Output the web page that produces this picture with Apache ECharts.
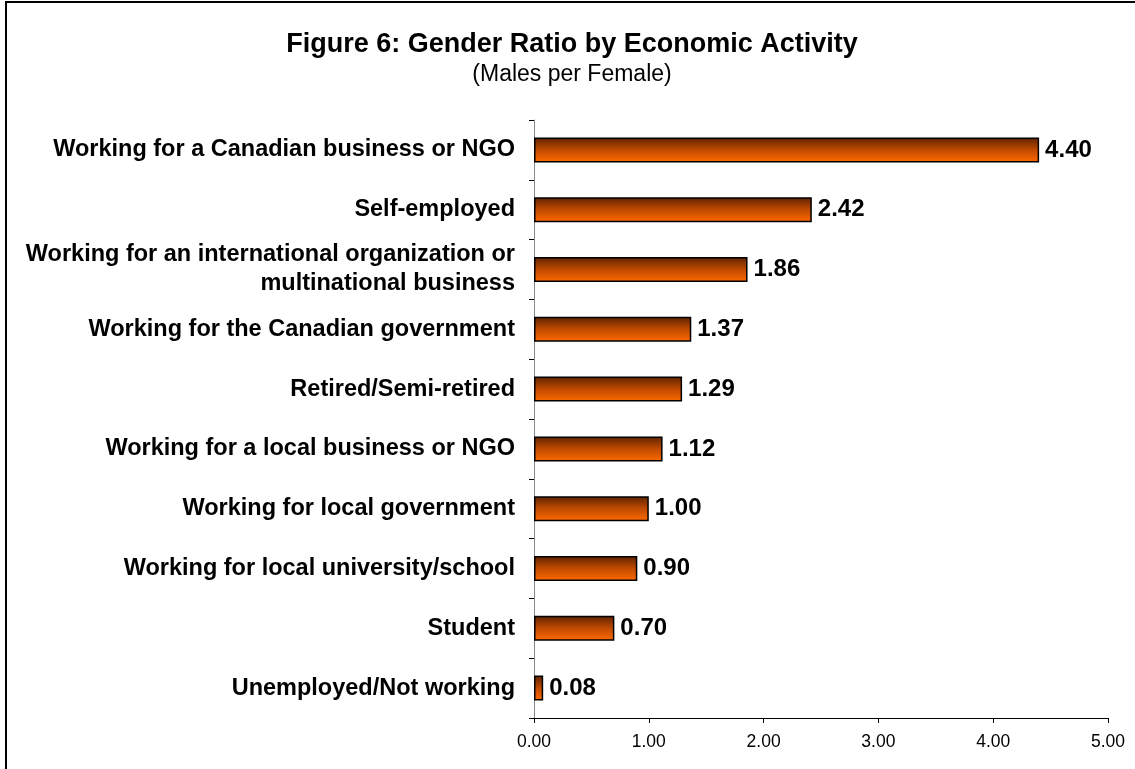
<!DOCTYPE html>
<html>
<head>
<meta charset="utf-8">
<script src="https://cdn.jsdelivr.net/npm/echarts@6/dist/echarts.min.js"></script>
<style>
  html, body { margin: 0; padding: 0; background: #fff; }
  #chart { width: 1135px; height: 769px; }
</style>
</head>
<body>
<div id="chart"></div>
<script>
// Activity categories, listed bottom to top as the axis draws them
const categories = [
  'Unemployed/Not working',
  'Student',
  'Working for local university/school',
  'Working for local government',
  'Working for a local business or NGO',
  'Retired/Semi-retired',
  'Working for the Canadian government',
  'Working for an international organization or\nmultinational business',
  'Self-employed',
  'Working for a Canadian business or NGO'
];
// Males per female for each activity
const ratios = [0.08, 0.70, 0.90, 1.00, 1.12, 1.29, 1.37, 1.86, 2.42, 4.40];
const xTicks = [0, 1, 2, 3, 4, 5];

const FONT = 'Arial, "Liberation Sans", Helvetica, sans-serif';

const chart = echarts.init(document.getElementById('chart'));
chart.setOption({
  backgroundColor: '#ffffff',
  animation: false,
  graphic: [{
    type: 'rect',
    shape: { x: 6, y: 2, width: 1200, height: 800 },
    style: { fill: 'none', stroke: '#000', lineWidth: 2 },
    silent: true
  }],
  title: {
    text: 'Figure 6: Gender Ratio by Economic Activity',
    subtext: '(Males per Female)',
    left: 567,
    textAlign: 'center',
    top: 26,
    itemGap: 5,
    textStyle: { fontFamily: FONT, fontWeight: 'bold', fontSize: 27, color: '#000' },
    subtextStyle: { fontFamily: FONT, fontSize: 23, color: '#000' }
  },
  grid: { left: 534, right: 27, top: 120, bottom: 51 },
  xAxis: {
    type: 'value',
    min: xTicks[0],
    max: xTicks[xTicks.length - 1],
    interval: 1,
    splitLine: { show: false },
    axisLine: { show: true, lineStyle: { color: '#000', width: 1 } },
    axisTick: { show: true, length: 5, lineStyle: { color: '#000' } },
    axisLabel: {
      formatter: v => v.toFixed(2),
      fontFamily: FONT, fontSize: 17.5, color: '#000', margin: 15
    }
  },
  yAxis: {
    type: 'category',
    data: categories,
    axisLine: { show: true, lineStyle: { color: '#888', width: 1 } },
    axisTick: { show: true, length: 5, lineStyle: { color: '#000' } },
    axisLabel: {
      fontFamily: FONT, fontWeight: 'bold', fontSize: 23.5,
      color: '#000', margin: 19, lineHeight: 29, align: 'right',
      padding: [5, 0, 0, 0]
    }
  },
  series: [{
    type: 'bar',
    data: ratios,
    barWidth: 25,
    itemStyle: {
      color: new echarts.graphic.LinearGradient(0, 0, 0, 1, [
        { offset: 0, color: '#5e2200' },
        { offset: 0.5, color: '#c04a00' },
        { offset: 1, color: '#ff6a00' }
      ]),
      borderColor: '#000',
      borderWidth: 1.5
    },
    label: {
      show: true,
      position: 'right',
      distance: 6,
      padding: [2, 0, 0, 0],
      formatter: p => p.value.toFixed(2),
      fontFamily: FONT, fontWeight: 'bold', fontSize: 24, color: '#000'
    }
  }]
});
</script>
</body>
</html>
